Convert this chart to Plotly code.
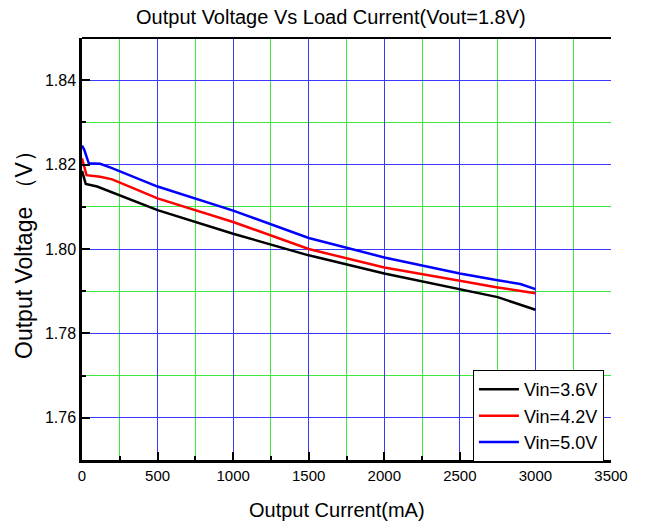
import plotly.graph_objects as go

# Data
x_36 = [0, 25, 100, 500, 1000, 1500, 2000, 2500, 2750, 3000]
v_36 = [1.8185, 1.8154, 1.8148, 1.8092, 1.8036, 1.7985, 1.7942, 1.7905, 1.7886, 1.7856]

x_42 = [0, 30, 120, 200, 500, 1000, 1500, 2000, 2500, 2750, 3000]
v_42 = [1.8215, 1.8175, 1.8171, 1.8165, 1.8120, 1.8064, 1.8000, 1.7956, 1.7925, 1.7909, 1.7895]

x_50 = [0, 15, 45, 120, 190, 500, 1000, 1500, 2000, 2500, 2750, 2900, 3000]
v_50 = [1.8245, 1.8235, 1.8203, 1.8202, 1.8193, 1.8148, 1.8091, 1.8026, 1.7980, 1.7942, 1.7926, 1.7917, 1.7905]

series_names = ["Vin=3.6V", "Vin=4.2V", "Vin=5.0V"]
series_colors = ["black", "#ff0000", "#0000ff"]

FONT = "Liberation Sans, Arial, sans-serif"
BLUE_GRID = "#3a3aff"
GREEN_GRID = "#3ee83e"

fig = go.Figure()
for xs, ys, name, col in zip([x_36, x_42, x_50], [v_36, v_42, v_50], series_names, series_colors):
    fig.add_trace(go.Scatter(x=xs, y=ys, mode="lines", name=name,
                             line=dict(color=col, width=2.5)))

fig.update_layout(
    width=645, height=525,
    margin=dict(l=82, r=34, t=38, b=65),
    paper_bgcolor="white", plot_bgcolor="white",
    font=dict(family=FONT, color="black"),
    title=dict(text="Output Voltage Vs Load Current(Vout=1.8V)",
               x=0.513, xanchor="center", y=1 - 17 / 525, yanchor="middle",
               yref="container", font=dict(size=20, family=FONT, color="black")),
    showlegend=True,
    legend=dict(x=0.739, y=-0.005, xanchor="left", yanchor="bottom",
                bgcolor="white", bordercolor="black", borderwidth=1,
                font=dict(size=18, family=FONT, color="black"),
                tracegroupgap=0, itemwidth=40),
    annotations=[dict(text="Output Current(mA)", xref="paper", yref="paper",
                      x=0.482, y=-0.118, xanchor="center", yanchor="middle",
                      showarrow=False, font=dict(size=20, family=FONT, color="black"))],
)

fig.update_xaxes(
    range=[0, 3500], dtick=500, tick0=0,
    showgrid=True, gridcolor=BLUE_GRID, gridwidth=1,
    showline=True, linecolor="black", linewidth=2.5,
    ticks="inside", ticklen=8, tickwidth=1.5, tickcolor="black",
    tickfont=dict(size=15, family=FONT, color="black"),
    minor=dict(dtick=250, tick0=0, showgrid=True, gridcolor=GREEN_GRID, gridwidth=1,
               ticks="inside", ticklen=4, tickcolor="black", tickwidth=1.5),
    zeroline=False,
)
fig.update_yaxes(
    range=[1.75, 1.85], dtick=0.02, tick0=1.76, tickformat=".2f",
    showgrid=True, gridcolor=BLUE_GRID, gridwidth=1,
    showline=True, linecolor="black", linewidth=2.5,
    ticks="inside", ticklen=8, tickwidth=1.5, tickcolor="black",
    tickfont=dict(size=16, family=FONT, color="black"),
    minor=dict(dtick=0.01, tick0=1.75, showgrid=True, gridcolor=GREEN_GRID, gridwidth=1,
               ticks="inside", ticklen=4, tickcolor="black", tickwidth=1.5),
    zeroline=False,
    title=dict(text="Output Voltage （V）", font=dict(size=23, family=FONT, color="black"),
               standoff=6),
)

# top frame line
fig.add_shape(type="line", xref="paper", yref="paper", x0=0, x1=1, y0=1, y1=1,
              line=dict(color="black", width=2))

fig.write_html("out.html")
